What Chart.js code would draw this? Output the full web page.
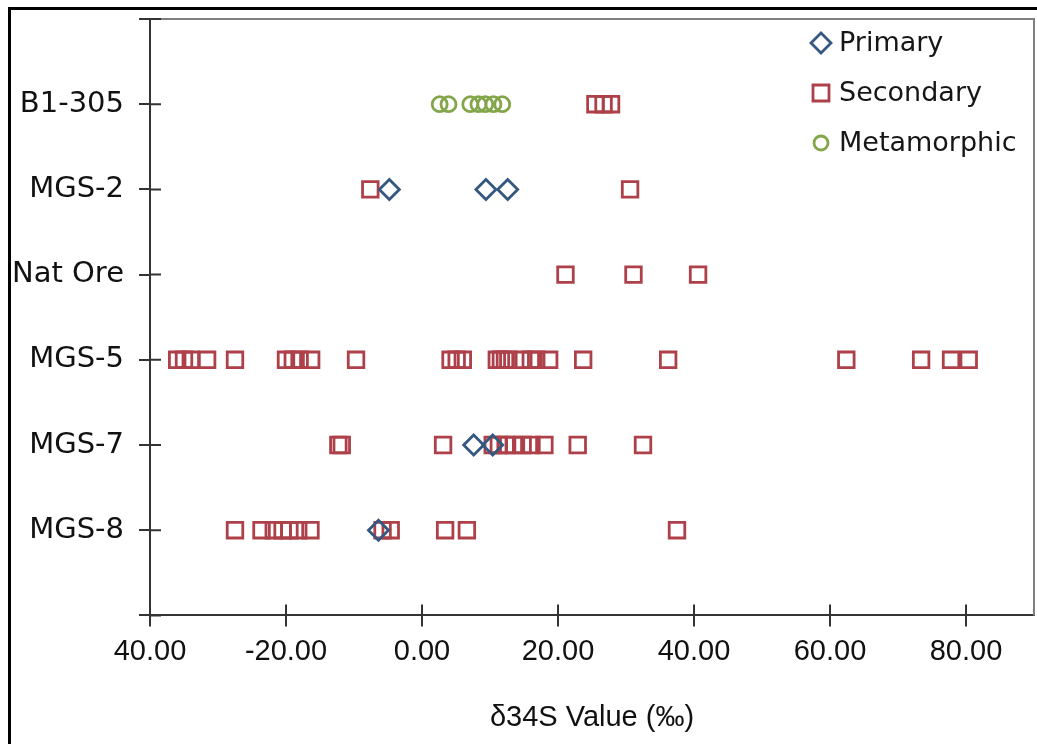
<!DOCTYPE html>
<html>
<head>
<meta charset="utf-8">
<script src="https://cdn.jsdelivr.net/npm/chart.js@4/dist/chart.umd.min.js"></script>
<style>
  html, body { margin: 0; padding: 0; background: #fff; }
  #wrap { position: relative; width: 1037px; height: 744px; }
  #frame { position: absolute; left: 8px; top: 7px; right: 0; bottom: 0; border-left: 3px solid #000; border-top: 3px solid #000; }
  #sulfurChart { position: absolute; left: 0; top: 0; }
</style>
</head>
<body>
<div id="wrap">
  <div id="frame"></div>
  <canvas id="sulfurChart" width="1037" height="744"></canvas>
</div>
<script>
// samples, top to bottom
const categories = ['B1-305', 'MGS-2', 'Nat Ore', 'MGS-5', 'MGS-7', 'MGS-8'];

// d34S values per sample (same order as categories)
const primaryValues = [
  [],
  [-4.8, 9.4, 12.6],
  [],
  [],
  [7.6, 10.4],
  [-6.4]
];
const secondaryValues = [
  [25.5, 26.7, 27.8],
  [-7.6, 30.6],
  [21.1, 31.1, 40.6],
  [-36.0, -35.0, -34.0, -31.6, -27.5, -20.0, -19.0, -18.0, -16.3, -9.7, 4.2, 5.1, 6.0,
   11.0, 11.6, 12.2, 12.7, 14.9, 16.0, 16.8, 18.7, 23.7, 36.2, 62.4, 73.4, 77.8, 80.4],
  [-12.3, -11.8, 3.1, 10.4, 11.3, 12.3, 13.5, 14.8, 16.1, 18.0, 22.9, 32.5],
  [-27.5, -23.6, -21.8, -20.5, -19.5, -18.2, -16.4, -5.8, -4.6, 3.4, 6.6, 37.5]
];
const metamorphicValues = [
  [2.6, 3.9, 7.1, 8.3, 9.3, 10.5, 11.8],
  [], [], [], [], []
];

// x ticks as printed on the figure
const xTickValues = [-40, -20, 0, 20, 40, 60, 80];
const xTickLabels = ['40.00', '-20.00', '0.00', '20.00', '40.00', '60.00', '80.00'];

const toPoints = rows => rows.flatMap((vals, i) => vals.map(v => ({ x: v, y: categories[i] })));

const axisColor = '#333333';

// cross ticks, top/right frame and the legend inside the plot
const framePlugin = {
  id: 'framePlugin',
  afterDraw(chart) {
    const { ctx, chartArea: a, scales: { x, y } } = chart;
    ctx.save();
    ctx.strokeStyle = '#7f7f7f';
    ctx.lineWidth = 2;
    ctx.beginPath();
    ctx.moveTo(a.left, a.top);
    ctx.lineTo(a.right, a.top);
    ctx.lineTo(a.right, a.bottom);
    ctx.stroke();

    ctx.strokeStyle = axisColor;
    ctx.beginPath();
    x.ticks.forEach(t => {
      const px = x.getPixelForValue(t.value);
      ctx.moveTo(px, a.bottom);
      ctx.lineTo(px, a.bottom - 11);
    });
    y.ticks.forEach((t, i) => {
      const py = y.getPixelForTick(i);
      ctx.moveTo(a.left, py);
      ctx.lineTo(a.left + 11, py);
    });
    ctx.stroke();

    // legend
    const lx = 821, ly = 43, step = 50;
    ctx.font = '27px "DejaVu Sans"';
    ctx.textBaseline = 'middle';
    ctx.textAlign = 'left';
    chart.data.datasets.forEach((ds, i) => {
      const cy = ly + i * step;
      ctx.strokeStyle = ds.borderColor;
      ctx.lineWidth = 2.8;
      ctx.beginPath();
      if (ds.pointStyle === 'rectRot') {
        ctx.moveTo(lx, cy - 10); ctx.lineTo(lx + 10, cy); ctx.lineTo(lx, cy + 10); ctx.lineTo(lx - 10, cy); ctx.closePath();
      } else if (ds.pointStyle === 'rect') {
        ctx.rect(lx - 8, cy - 8, 16, 16);
      } else {
        ctx.arc(lx, cy, 7, 0, Math.PI * 2);
      }
      ctx.stroke();
      ctx.fillStyle = '#161616';
      ctx.fillText(ds.label, lx + 18, cy + 1);
    });
    ctx.restore();
  }
};

const ctx = document.getElementById('sulfurChart').getContext('2d');
new Chart(ctx, {
  type: 'scatter',
  data: {
    datasets: [{
      label: 'Primary',
      data: toPoints(primaryValues),
      pointStyle: 'rectRot',
      pointRadius: 10,
      borderColor: '#34587f',
      backgroundColor: 'rgba(0,0,0,0)',
      pointBorderWidth: 2.8
    }, {
      label: 'Secondary',
      data: toPoints(secondaryValues),
      pointStyle: 'rect',
      pointRadius: 11,
      borderColor: '#ad4049',
      backgroundColor: 'rgba(0,0,0,0)',
      pointBorderWidth: 2.8
    }, {
      label: 'Metamorphic',
      data: toPoints(metamorphicValues),
      pointStyle: 'circle',
      pointRadius: 7.5,
      borderColor: '#84a64a',
      backgroundColor: 'rgba(0,0,0,0)',
      pointBorderWidth: 2.8
    }]
  },
  options: {
    responsive: false,
    animation: false,
    layout: { autoPadding: false, padding: { left: 0, right: 3, top: 19, bottom: 5 } },
    plugins: { legend: { display: false }, tooltip: { enabled: false } },
    scales: {
      x: {
        type: 'linear',
        min: -40,
        max: 90,
        afterBuildTicks: s => { s.ticks = xTickValues.map(v => ({ value: v })); },
        afterFit: s => { s.paddingLeft = 0; s.paddingRight = 0; },
        border: { color: axisColor, width: 2 },
        grid: { drawOnChartArea: false, drawTicks: true, tickLength: 11, color: axisColor, lineWidth: 2 },
        ticks: {
          padding: 8,
          maxRotation: 0,
          color: '#111',
          font: { family: '"Liberation Sans", Arial', size: 29, lineHeight: 1.2 },
          callback: v => xTickLabels[xTickValues.indexOf(v)]
        },
        title: {
          display: true,
          text: 'δ34S Value (‰)',
          color: '#111',
          padding: { top: 23, bottom: 4 },
          font: { family: '"Liberation Sans", Arial', size: 29, lineHeight: 1.2 }
        }
      },
      y: {
        type: 'category',
        labels: ['', ...categories, ''],
        offset: false,
        afterFit: s => { s.width = 150; s.paddingTop = 0; s.paddingBottom = 0; },
        border: { color: axisColor, width: 2 },
        grid: { drawOnChartArea: false, drawTicks: true, tickLength: 11, color: axisColor, lineWidth: 2 },
        ticks: {
          autoSkip: false,
          padding: 15,
          color: '#111',
          font: { family: '"DejaVu Sans"', size: 29, lineHeight: 1.2 }
        }
      }
    }
  },
  plugins: [framePlugin]
});
</script>
</body>
</html>
